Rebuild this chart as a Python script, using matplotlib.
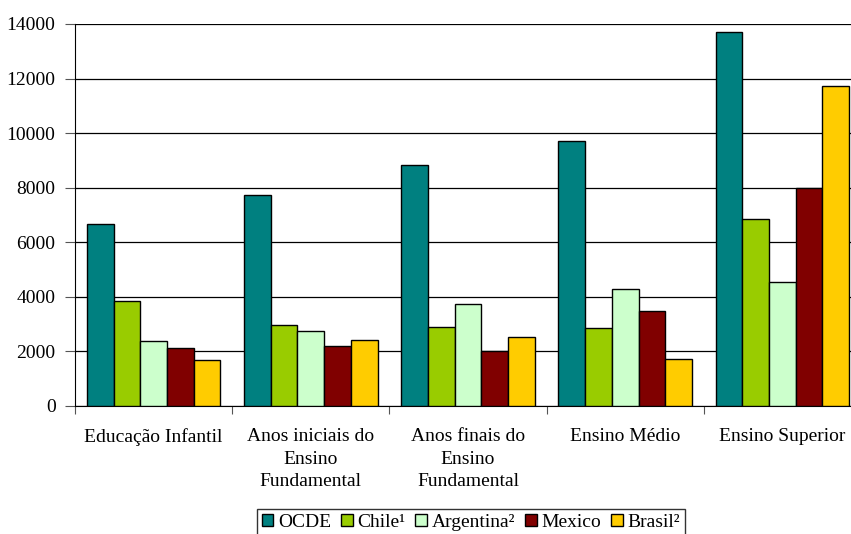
import matplotlib
matplotlib.use("Agg")
import matplotlib.pyplot as plt
import numpy as np

categories = ["Educação Infantil", "Anos iniciais do\nEnsino\nFundamental",
              "Anos finais do\nEnsino\nFundamental", "Ensino Médio", "Ensino Superior"]
series_names = ["OCDE", "Chile¹", "Argentina²", "Mexico", "Brasil²"]
ocde = [6660, 7730, 8850, 9730, 13700]
chile = [3860, 2980, 2890, 2870, 6840]
argentina = [2380, 2760, 3740, 4270, 4550]
mexico = [2140, 2200, 2010, 3500, 8000]
brasil = [1680, 2420, 2530, 1730, 11720]
colors = ["#008080", "#99CC00", "#CCFFCC", "#800000", "#FFCC00"]
yticks = [0, 2000, 4000, 6000, 8000, 10000, 12000, 14000]

plt.rcParams['font.family'] = ['Liberation Serif', 'DejaVu Serif']

fig = plt.figure(figsize=(8.51, 5.34), dpi=100)
ax = fig.add_axes([75/851, 1-406/534, (861-75)/851, (406-24)/534])

data = [ocde, chile, argentina, mexico, brasil]
n = len(data)
group_w = 0.85
bw = group_w / n
x = np.arange(len(categories))
handles = []
for i, (vals, name, c) in enumerate(zip(data, series_names, colors)):
    h = ax.bar(x - group_w/2 + bw*(i+0.5), vals, width=bw, color=c,
               edgecolor='black', linewidth=1.0, label=name, zorder=3)
    handles.append(h)

ax.set_xlim(-0.5, len(categories)-0.5)
ax.set_ylim(0, 14000)
ax.set_yticks(yticks)
ax.set_yticklabels([str(v) for v in yticks], fontsize=14)
ax.yaxis.grid(True, color='black', linewidth=0.9, zorder=0)
ax.set_axisbelow(True)

ax.set_xticks(np.arange(len(categories)+1) - 0.5)
ax.set_xticklabels([])
ax.set_xticks(x, minor=True)
ax.set_xticklabels(categories, minor=True, fontsize=14, linespacing=1.43)
ax.tick_params(axis='x', which='minor', length=0, pad=16)
ax.tick_params(axis='x', which='major', length=6, direction='out', color='#555555')
ax.tick_params(axis='y', length=7, direction='out', color='#555555', pad=7)

for s in ['top', 'right']:
    ax.spines[s].set_visible(False)
ax.spines['left'].set_color('black')
ax.spines['bottom'].set_color('black')

leg = fig.legend(handles=handles, labels=series_names, loc='upper center',
                 bbox_to_anchor=(471/851, 1-509/534), ncol=5, fontsize=14,
                 frameon=True, fancybox=False, edgecolor='black',
                 handlelength=0.6, handleheight=0.6, handletextpad=0.25,
                 columnspacing=0.5, borderpad=0.25, borderaxespad=0)
leg.get_frame().set_linewidth(1.0)

fig.savefig("out.png", dpi=100)
